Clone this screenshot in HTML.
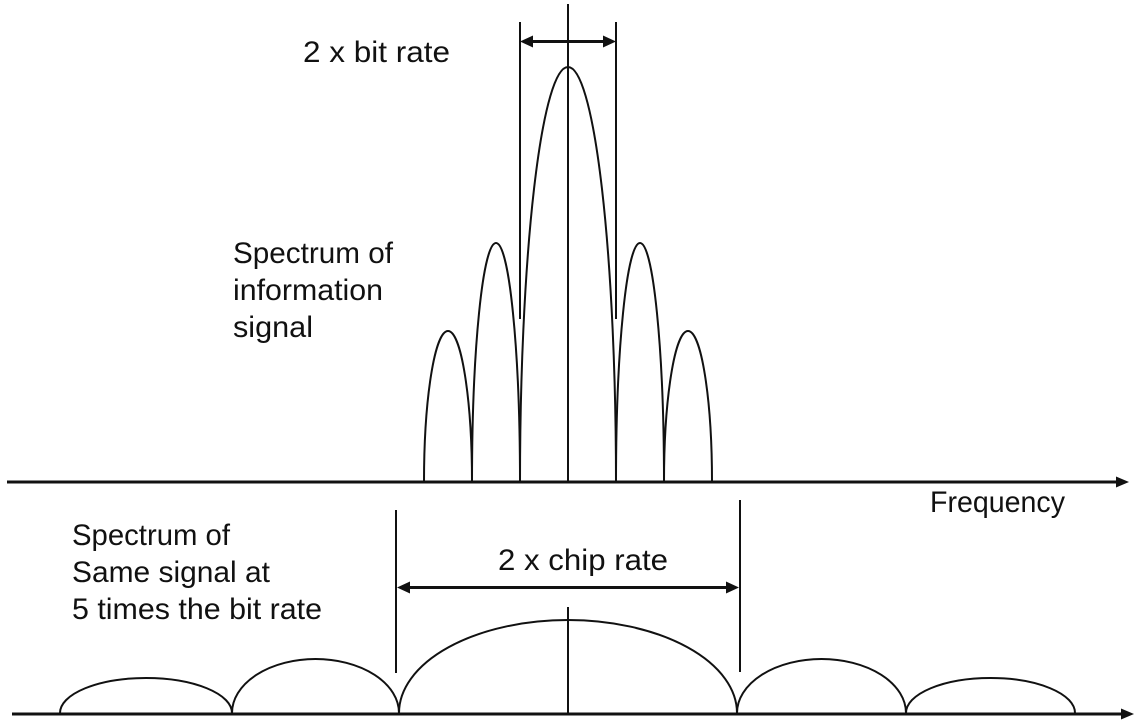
<!DOCTYPE html>
<html>
<head>
<meta charset="utf-8">
<style>
  html, body { margin: 0; padding: 0; background: #fff; }
  svg { display: block; }
  text { font-family: "Liberation Sans", "DejaVu Sans", sans-serif; font-size: 30px; fill: #111; }
</style>
</head>
<body>
<svg width="1142" height="726" viewBox="0 0 1142 726" xmlns="http://www.w3.org/2000/svg">
  <rect width="1142" height="726" fill="#fff"/>

  <!-- ===== Top spectrum ===== -->
  <!-- axis -->
  <line x1="7" y1="482" x2="1118" y2="482" stroke="#111" stroke-width="3"/>
  <polygon points="1129,482 1116,476.5 1116,487.5" fill="#111"/>

  <!-- lobes -->
  <g fill="none" stroke="#111" stroke-width="2">
    <path d="M424 482 A24 151 0 0 1 472 482"/>
    <path d="M472 482 A24 239 0 0 1 520 482"/>
    <path d="M520 482 A48 415 0 0 1 616 482"/>
    <path d="M616 482 A24 239 0 0 1 664 482"/>
    <path d="M664 482 A24 151 0 0 1 712 482"/>
  </g>

  <!-- center line and markers -->
  <line x1="568" y1="4" x2="568" y2="482" stroke="#111" stroke-width="2"/>
  <line x1="520" y1="22" x2="520" y2="319" stroke="#111" stroke-width="2"/>
  <line x1="616" y1="22" x2="616" y2="319" stroke="#111" stroke-width="2"/>

  <!-- 2x bit rate arrow -->
  <line x1="530" y1="41.5" x2="606" y2="41.5" stroke="#111" stroke-width="3"/>
  <polygon points="520,41.5 533,35.5 533,47.5" fill="#111"/>
  <polygon points="616,41.5 603,35.5 603,47.5" fill="#111"/>

  <text x="303" y="62" textLength="147" lengthAdjust="spacingAndGlyphs">2 x bit rate</text>
  <text x="233" y="263" textLength="160" lengthAdjust="spacingAndGlyphs">Spectrum of</text>
  <text x="233" y="300" textLength="150" lengthAdjust="spacingAndGlyphs">information</text>
  <text x="233" y="337" textLength="80" lengthAdjust="spacingAndGlyphs">signal</text>

  <text x="930" y="512" textLength="135" lengthAdjust="spacingAndGlyphs">Frequency</text>

  <!-- ===== Bottom spectrum ===== -->
  <line x1="12" y1="714" x2="1122" y2="714" stroke="#111" stroke-width="3"/>
  <polygon points="1134,714 1121,708.5 1121,719.5" fill="#111"/>

  <g fill="none" stroke="#111" stroke-width="2">
    <path d="M60 713 A86 35 0 0 1 232 713"/>
    <path d="M232 713 A83.5 54 0 0 1 399 713"/>
    <path d="M399 713 A169 93 0 0 1 737 713"/>
    <path d="M737 713 A84.5 54 0 0 1 906 713"/>
    <path d="M906 713 A84.5 35 0 0 1 1075 713"/>
  </g>

  <line x1="568" y1="607" x2="568" y2="714" stroke="#111" stroke-width="2"/>
  <line x1="396" y1="510" x2="396" y2="673" stroke="#111" stroke-width="2"/>
  <line x1="740" y1="500" x2="740" y2="672" stroke="#111" stroke-width="2"/>

  <!-- 2x chip rate arrow -->
  <line x1="406" y1="587.5" x2="730" y2="587.5" stroke="#111" stroke-width="3"/>
  <polygon points="397,587.5 410,581.5 410,593.5" fill="#111"/>
  <polygon points="739,587.5 726,581.5 726,593.5" fill="#111"/>

  <text x="498" y="570" textLength="170" lengthAdjust="spacingAndGlyphs">2 x chip rate</text>

  <text x="72" y="545" textLength="158" lengthAdjust="spacingAndGlyphs">Spectrum of</text>
  <text x="72" y="582" textLength="198" lengthAdjust="spacingAndGlyphs">Same signal at</text>
  <text x="72" y="619" textLength="250" lengthAdjust="spacingAndGlyphs">5 times the bit rate</text>
</svg>
</body>
</html>
